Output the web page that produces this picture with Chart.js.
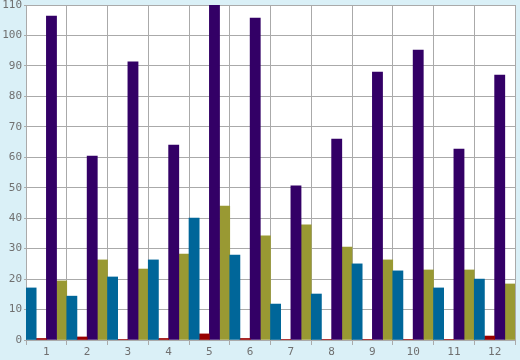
<!DOCTYPE html>
<html>
<head>
<meta charset="utf-8">
<script src="https://cdn.jsdelivr.net/npm/chart.js@4/dist/chart.umd.min.js"></script>
<style>
  html, body { margin: 0; padding: 0; background: #daf0f7; }
  #wrap { width: 520px; height: 360px; }
</style>
</head>
<body>
<div id="wrap"><canvas id="chart" width="520" height="360"></canvas></div>
<script>
// categories and series
const categories = ["1","2","3","4","5","6","7","8","9","10","11","12"];
const seriesTeal   = [17.1, 14.4, 20.7, 26.3, 40.0, 27.9, 11.8, 15.1, 25.0, 22.7, 17.1, 20.0];
const seriesRed    = [0.5, 1.0, 0.2, 0.5, 2.0, 0.5, 0.2, 0.2, 0.2, 0.2, 0.2, 1.3];
const seriesPurple = [106.4, 60.4, 91.3, 64.0, 110, 105.7, 50.6, 66.0, 88.0, 95.2, 62.7, 87.0];
const seriesOlive  = [19.4, 26.3, 23.3, 28.2, 44.0, 34.2, 37.8, 30.5, 26.3, 23.0, 23.0, 18.4];
const yTicks = [0, 10, 20, 30, 40, 50, 60, 70, 80, 90, 100, 110];

const gridCol = "#aaaaaa";
const textCol = "#707070";

// white plot background
const plotBg = {
  id: "plotBg",
  beforeDraw(chart) {
    const { ctx, chartArea: a } = chart;
    ctx.save();
    ctx.fillStyle = "#ffffff";
    ctx.fillRect(a.left, a.top, a.right - a.left, a.bottom - a.top);
    ctx.restore();
  }
};

const ds = (data, color) => ({
  data, backgroundColor: color, borderWidth: 0,
  categoryPercentage: 1, barPercentage: 1
});

new Chart(document.getElementById("chart"), {
  type: "bar",
  data: {
    labels: categories,
    datasets: [
      ds(seriesTeal, "#006699"),
      ds(seriesRed, "#990000"),
      ds(seriesPurple, "#330066"),
      ds(seriesOlive, "#999933")
    ]
  },
  options: {
    responsive: false,
    animation: false,
    layout: { padding: { top: 5, right: 5, left: 0, bottom: 0 } },
    plugins: { legend: { display: false }, tooltip: { enabled: false } },
    scales: {
      x: {
        grid: { color: gridCol, lineWidth: 1, tickLength: 5, offset: true },
        border: { color: gridCol },
        ticks: { color: textCol, font: { family: "DejaVu Sans Mono", size: 11 }, padding: 1, maxRotation: 0 },
        afterFit(s) { s.height = 20; s.paddingLeft = 0; s.paddingRight = 0; }
      },
      y: {
        min: 0, max: 110,
        afterBuildTicks(s) { s.ticks = yTicks.map(v => ({ value: v })); },
        grid: { color: gridCol, lineWidth: 1, tickLength: 2 },
        border: { color: gridCol },
        ticks: { color: textCol, font: { family: "DejaVu Sans Mono", size: 11 }, padding: 2 },
        afterFit(s) { s.width = 26; s.paddingTop = 0; s.paddingBottom = 0; }
      }
    }
  },
  plugins: [plotBg]
});
</script>
</body>
</html>
